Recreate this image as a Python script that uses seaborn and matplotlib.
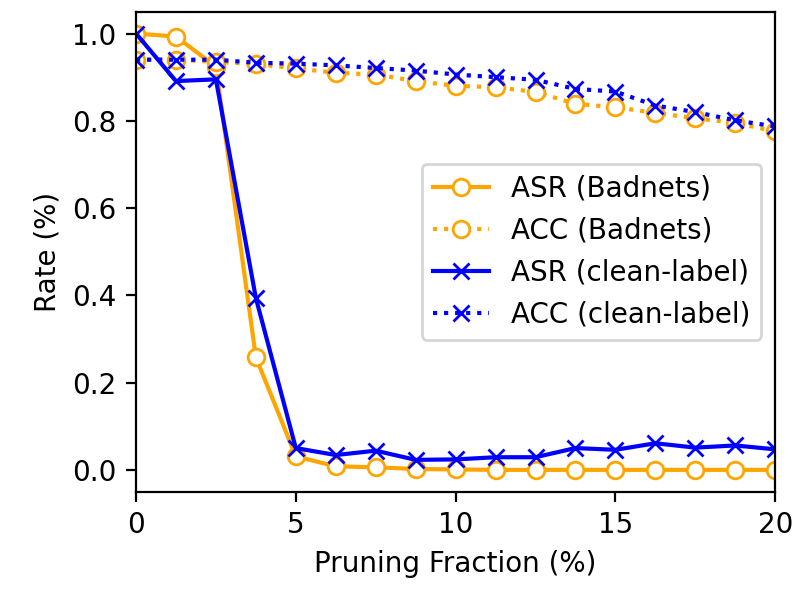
import matplotlib
matplotlib.use("Agg")
import matplotlib.pyplot as plt
import seaborn as sns

x = [0, 1.25, 2.5, 3.75, 5, 6.25, 7.5, 8.75, 10, 11.25, 12.5, 13.75, 15, 16.25, 17.5, 18.75, 20]
asr_badnets = [1.0, 0.993, 0.924, 0.258, 0.031, 0.008, 0.006, 0.002, 0.001, 0.0, 0.0, 0.0, 0.0, 0.0, 0.0, 0.0, 0.0]
acc_badnets = [0.94, 0.94, 0.935, 0.93, 0.92, 0.91, 0.906, 0.891, 0.88, 0.877, 0.866, 0.839, 0.831, 0.818, 0.806, 0.795, 0.776]
asr_clean = [1.0, 0.891, 0.895, 0.394, 0.05, 0.034, 0.044, 0.023, 0.024, 0.029, 0.029, 0.05, 0.046, 0.061, 0.051, 0.056, 0.047]
acc_clean = [0.94, 0.94, 0.94, 0.933, 0.931, 0.927, 0.921, 0.915, 0.906, 0.9, 0.894, 0.873, 0.867, 0.835, 0.82, 0.801, 0.787]
xticks = [0, 5, 10, 15, 20]

plt.rcParams['font.size'] = 10

fig, ax = plt.subplots(figsize=(4, 3), dpi=200)
fig.subplots_adjust(left=0.17, right=0.969, bottom=0.1805, top=0.9805)

series = [
    (asr_badnets, "ASR (Badnets)", "orange", "o", "-"),
    (acc_badnets, "ACC (Badnets)", "orange", "o", ":"),
    (asr_clean, "ASR (clean-label)", "blue", "x", "-"),
    (acc_clean, "ACC (clean-label)", "blue", "x", ":"),
]
for vals, lab, col, mk, ls in series:
    sns.lineplot(x=x, y=vals, ax=ax, color=col, marker=mk, linestyle=ls,
                 linewidth=1.5, markersize=6,
                 markerfacecolor="white" if mk == "o" else col,
                 markeredgecolor=col, markeredgewidth=1.0, label=lab)

ax.set_xlim(0, 20)
ax.set_xticks(xticks)
ax.set_xlabel("Pruning Fraction (%)")
ax.set_ylabel("Rate (%)")
ax.legend(loc="center right")
fig.savefig("out.png", dpi=200)
